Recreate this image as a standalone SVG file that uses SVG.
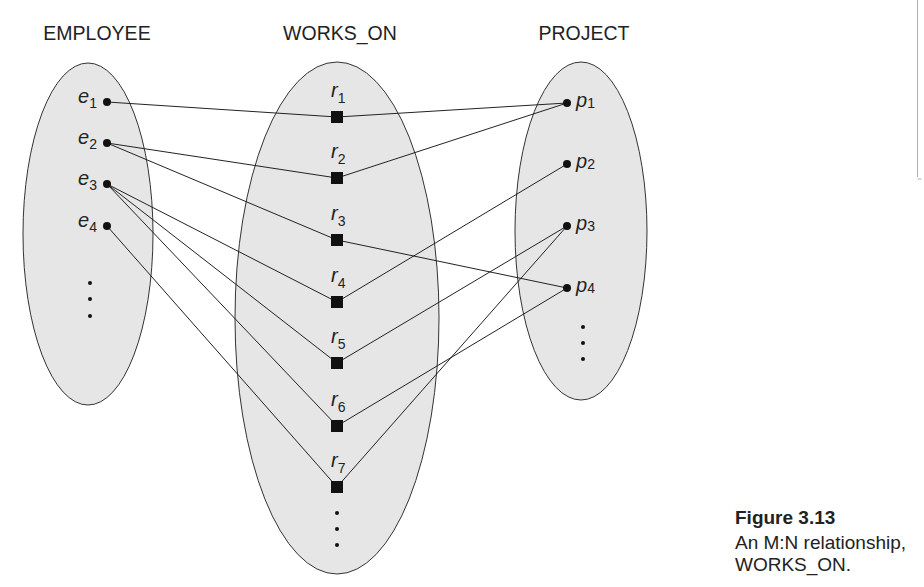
<svg xmlns="http://www.w3.org/2000/svg" width="924" height="587" viewBox="0 0 924 587">
<style>
.set{fill:#e6e6e6;stroke:#333;stroke-width:1}
.title{font-family:"Liberation Sans",Arial,sans-serif;font-size:19.5px;fill:#222;text-anchor:middle}
.lbl{font-family:"Liberation Sans",Arial,sans-serif;font-size:20px;font-style:italic;fill:#222}
.sub{font-style:normal;font-size:14px}
.cap{font-family:"Liberation Sans",Arial,sans-serif;font-size:19px;fill:#222}
.conn line{stroke:#222;stroke-width:1}
.dot{fill:#111}
.rel{fill:#111}
</style>
<rect width="924" height="587" fill="#fff"/>
<path d="M917.5 0 V177 M917.5 179 h4" stroke="#b0b0b0" stroke-width="1" fill="none"/>

<text class="title" x="97" y="40">EMPLOYEE</text>
<text class="title" x="340" y="40">WORKS_ON</text>
<text class="title" x="584" y="40">PROJECT</text>

<g id="employee-set"><ellipse class="set" cx="88" cy="234" rx="65" ry="171"/></g>
<g id="works_on-set"><ellipse class="set" cx="337" cy="318" rx="102" ry="256"/></g>
<g id="project-set"><ellipse class="set" cx="581" cy="231" rx="66" ry="169"/></g>

<g id="connectors" class="conn">
<line x1="107" y1="102" x2="337" y2="117"/>
<line x1="337" y1="117" x2="567" y2="103"/>
<line x1="107" y1="143" x2="337" y2="178"/>
<line x1="337" y1="178" x2="567" y2="103"/>
<line x1="107" y1="143" x2="337" y2="240"/>
<line x1="337" y1="240" x2="567" y2="288"/>
<line x1="107" y1="184" x2="337" y2="302"/>
<line x1="337" y1="302" x2="567" y2="164"/>
<line x1="107" y1="184" x2="337" y2="363"/>
<line x1="337" y1="363" x2="567" y2="226"/>
<line x1="107" y1="184" x2="337" y2="426"/>
<line x1="337" y1="426" x2="567" y2="288"/>
<line x1="107" y1="226" x2="337" y2="487"/>
<line x1="337" y1="487" x2="567" y2="226"/>
</g>

<g id="e1"><circle class="dot" cx="107" cy="102" r="4"/><text class="lbl" x="78" y="103">e<tspan class="sub" dy="4.5">1</tspan></text></g>
<g id="e2"><circle class="dot" cx="107" cy="143" r="4"/><text class="lbl" x="78" y="144">e<tspan class="sub" dy="4.5">2</tspan></text></g>
<g id="e3"><circle class="dot" cx="107" cy="184" r="4"/><text class="lbl" x="78" y="185">e<tspan class="sub" dy="4.5">3</tspan></text></g>
<g id="e4"><circle class="dot" cx="107" cy="226" r="4"/><text class="lbl" x="78" y="227">e<tspan class="sub" dy="4.5">4</tspan></text></g>
<g id="e-more"><circle class="dot" cx="90" cy="283" r="2"/><circle class="dot" cx="90" cy="299" r="2"/><circle class="dot" cx="90" cy="316" r="2"/></g>

<g id="r1"><rect class="rel" x="331" y="111" width="12" height="12"/><text class="lbl" x="331" y="97">r<tspan class="sub" dy="6">1</tspan></text></g>
<g id="r2"><rect class="rel" x="331" y="172" width="12" height="12"/><text class="lbl" x="331" y="158">r<tspan class="sub" dy="6">2</tspan></text></g>
<g id="r3"><rect class="rel" x="331" y="234" width="12" height="12"/><text class="lbl" x="331" y="220">r<tspan class="sub" dy="6">3</tspan></text></g>
<g id="r4"><rect class="rel" x="331" y="296" width="12" height="12"/><text class="lbl" x="331" y="282">r<tspan class="sub" dy="6">4</tspan></text></g>
<g id="r5"><rect class="rel" x="331" y="357" width="12" height="12"/><text class="lbl" x="331" y="343">r<tspan class="sub" dy="6">5</tspan></text></g>
<g id="r6"><rect class="rel" x="331" y="420" width="12" height="12"/><text class="lbl" x="331" y="406">r<tspan class="sub" dy="6">6</tspan></text></g>
<g id="r7"><rect class="rel" x="331" y="481" width="12" height="12"/><text class="lbl" x="331" y="467">r<tspan class="sub" dy="6">7</tspan></text></g>
<g id="r-more"><circle class="dot" cx="337" cy="513" r="2"/><circle class="dot" cx="337" cy="529" r="2"/><circle class="dot" cx="337" cy="545" r="2"/></g>

<g id="p1"><circle class="dot" cx="567" cy="103" r="4"/><text class="lbl" x="576" y="107">p<tspan class="sub" dy="1">1</tspan></text></g>
<g id="p2"><circle class="dot" cx="567" cy="164" r="4"/><text class="lbl" x="576" y="168">p<tspan class="sub" dy="1">2</tspan></text></g>
<g id="p3"><circle class="dot" cx="567" cy="226" r="4"/><text class="lbl" x="576" y="230">p<tspan class="sub" dy="1">3</tspan></text></g>
<g id="p4"><circle class="dot" cx="567" cy="288" r="4"/><text class="lbl" x="576" y="292">p<tspan class="sub" dy="1">4</tspan></text></g>
<g id="p-more"><circle class="dot" cx="583" cy="327" r="2"/><circle class="dot" cx="583" cy="343" r="2"/><circle class="dot" cx="583" cy="359" r="2"/></g>

<g id="caption">
<text class="cap" x="735" y="524" font-weight="bold" font-size="20">Figure 3.13</text>
<text class="cap" x="735" y="549">An M:N relationship,</text>
<text class="cap" x="735" y="571">WORKS_ON.</text>
</g>
</svg>
